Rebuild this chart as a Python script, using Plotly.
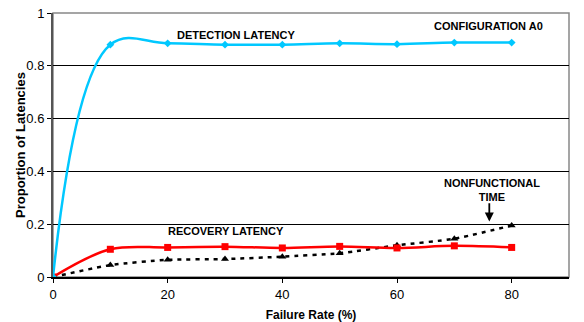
import plotly.graph_objects as go

failure_rate = [0, 10, 20, 30, 40, 50, 60, 70, 80]
detection = [0, 0.88, 0.885, 0.88, 0.88, 0.885, 0.882, 0.888, 0.888]
recovery = [0, 0.105, 0.112, 0.115, 0.11, 0.116, 0.11, 0.118, 0.112]
nonfunctional = [0, 0.045, 0.065, 0.068, 0.077, 0.09, 0.12, 0.145, 0.195]
x_ticks = [0, 20, 40, 60, 80]
y_ticks = [0, 0.2, 0.4, 0.6, 0.8, 1]
y_tick_text = ["0", "0.2", "0.4", "0.6", "0.8", "1"]

fig = go.Figure()
fig.add_trace(go.Scatter(x=failure_rate, y=nonfunctional, mode="lines+markers",
                         line=dict(color="black", width=2.5, dash="4px,5px", shape="spline", smoothing=0.6),
                         marker=dict(symbol="triangle-up", size=7, color="black")))
fig.add_trace(go.Scatter(x=failure_rate, y=recovery, mode="lines+markers",
                         line=dict(color="#ff0000", width=2.5, shape="spline", smoothing=1.0),
                         marker=dict(symbol="square", size=7, color="#ff0000")))
fig.add_trace(go.Scatter(x=failure_rate, y=detection, mode="lines+markers",
                         line=dict(color="#00c8ff", width=2.5, shape="spline", smoothing=1.1),
                         marker=dict(symbol="diamond", size=6, color="#00c8ff")))

fnt = dict(family="Liberation Sans, Arial", size=11, color="black")
fig.add_annotation(x=32.0, y=0.917, text="<b>DETECTION LATENCY</b>", showarrow=False, font=fnt,
                   xanchor="center", yanchor="middle")
fig.add_annotation(x=76.0, y=0.95, text="<b>CONFIGURATION A0</b>", showarrow=False, font=fnt,
                   xanchor="center", yanchor="middle")
fig.add_annotation(x=30.2, y=0.174, text="<b>RECOVERY LATENCY</b>", showarrow=False, font=fnt,
                   xanchor="center", yanchor="middle")
fig.add_annotation(x=76.6, y=0.33, text="<b>NONFUNCTIONAL<br>TIME</b>", showarrow=False, font=fnt,
                   xanchor="center", yanchor="middle")
fig.add_annotation(x=76.1, y=0.21, ax=76.1, ay=0.285, axref="x", ayref="y", text="",
                   showarrow=True, arrowhead=2, arrowsize=1, arrowwidth=1.8, arrowcolor="black")
fig.add_annotation(xref="paper", yref="paper", x=-0.064, y=0.5, text="<b>Proportion of Latencies</b>",
                   textangle=-90, showarrow=False, xanchor="center", yanchor="middle",
                   font=dict(family="Liberation Sans, Arial", size=13, color="black"))

fig.update_layout(
    width=584, height=322, showlegend=False,
    margin=dict(l=53, r=15, t=13, b=45),
    plot_bgcolor="white", paper_bgcolor="white",
    font=dict(family="Liberation Sans, Arial", size=13, color="black"),
    shapes=[dict(type="rect", xref="paper", yref="paper", x0=0, y0=0, x1=1, y1=1,
                 line=dict(color="#888888", width=1.5), layer="below")],
)
fig.update_xaxes(range=[0, 90], tickvals=x_ticks, showgrid=False, zeroline=False,
                 showline=True, linecolor="black", linewidth=2, ticks="outside",
                 ticklen=4, tickcolor="black", automargin=False,
                 title=dict(text="<b>Failure Rate (%)</b>", standoff=13, font=dict(size=12)))
fig.update_yaxes(range=[0, 1], tickvals=y_ticks, ticktext=y_tick_text, showgrid=True,
                 gridcolor="black", gridwidth=1, zeroline=False,
                 showline=True, linecolor="#555555", linewidth=2, ticks="outside",
                 ticklen=4, tickcolor="black", automargin=False)

fig.write_html("out.html", config={"displayModeBar": False},
               post_script="document.body.style.margin='0';")
